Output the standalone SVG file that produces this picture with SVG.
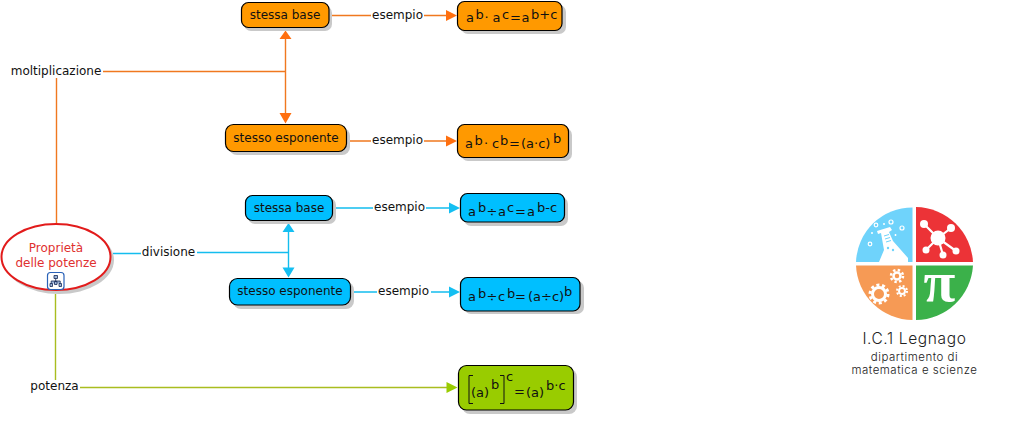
<svg xmlns="http://www.w3.org/2000/svg" width="1036" height="421" viewBox="0 0 1036 421">
<style>
text{font-family:"DejaVu Sans",Verdana,sans-serif;font-size:12px;fill:#111}
.m{text-anchor:middle}
.f{font-size:13px}
.s{font-size:13px}
.n{stroke:#000;stroke-width:1.2}
.sh{fill:#c9c9c9}
.o{fill:#ff9900}.b{fill:#00bfff}.g{fill:#99cc00}
.lo{stroke:#f0781f;fill:none;stroke-width:1.400}
.lb{stroke:#14bdee;fill:none;stroke-width:1.400}
.lg{stroke:#a9bd1f;fill:none;stroke-width:1.400}
.ao{fill:#ff6f0f}.ab{fill:#14bff2}.ag{fill:#99cc00}
.logo{font-family:"Inter","Open Sans",sans-serif;fill:#222;font-weight:300}
</style>
<g id="connectors">
<path class="lo" d="M56.500 223V78M103 71.500H285.500M285.500 38V114M332 15.500H371M424 15.500H447M350 141H371M424 141H447"/>
<path class="lb" d="M113 253.500H141M197 252.500H288.500M288.500 231V268M336 208H373M426 208H449M354 292H377M431 292H449"/>
<path class="lg" d="M55.500 294V380M80 387.500H447"/>
<path class="ao" d="M285.500 30.500l6 8.500h-12zM285.500 123.500l-6-10.500h12zM457 15.500l-11-5.500v11zM457 141l-11-5.500v11z"/>
<path class="ab" d="M288.500 223l6 9h-12zM288.500 277.500l-6-10h12zM460 208l-11-5.500v11zM460 292l-11-5.500v11z"/>
<path class="ag" d="M457.500 387.500l-11-5.500v11z"/>
</g>
<g id="label-moltiplicazione"><text x="56" y="74.500" class="m">moltiplicazione</text></g>
<g id="label-divisione"><text x="168.500" y="256" class="m">divisione</text></g>
<g id="label-potenza"><text x="54.500" y="390" class="m">potenza</text></g>
<g id="label-esempio-1"><text x="397.500" y="18.500" class="m">esempio</text></g>
<g id="label-esempio-2"><text x="397.500" y="144" class="m">esempio</text></g>
<g id="label-esempio-3"><text x="399.500" y="211" class="m">esempio</text></g>
<g id="label-esempio-4"><text x="403.500" y="295" class="m">esempio</text></g>
<g id="root">
<ellipse class="sh" cx="59" cy="260" rx="55" ry="34"/>
<ellipse cx="56" cy="257" rx="54.500" ry="33" fill="#fff" stroke="#e21b1b" stroke-width="2"/>
<text x="56" y="251.500" class="m" style="fill:#e0302f">Proprietà</text>
<text x="56" y="266.500" class="m" style="fill:#e0302f">delle potenze</text>
<rect x="47.500" y="272.500" width="16.500" height="17" rx="3" fill="#fff" stroke="#2a62b8" stroke-width="1.200"/>
<path d="M54 275.500h3.500v3h-3.500zM50 283.500h2.500v3h-2.500zM54.500 281.500h2.500v3h-2.500zM59 283.500h2.500v3h-2.500zM55.700 278.500v3M51.200 283.500v-2.500h9v2.500" fill="#9db4d8" stroke="#152a55" stroke-width=".8"/>
</g>
<g id="orange-base">
<rect class="sh" x="244" y="6" width="88" height="25" rx="7"/>
<rect class="o n" x="241.500" y="2.500" width="87.500" height="25" rx="7"/>
<text x="285" y="19" class="m">stessa base</text>
</g>
<g id="orange-exp">
<rect class="sh" x="229" y="128" width="121" height="27" rx="8"/>
<rect class="o n" x="225.500" y="124.500" width="121" height="27" rx="8"/>
<text x="286" y="141.500" class="m">stesso esponente</text>
</g>
<g id="orange-f1">
<rect class="sh" x="461" y="5" width="105" height="29" rx="7"/>
<rect class="o n" x="457.500" y="1.500" width="104.500" height="29" rx="7"/>
<text class="f"><tspan x="466" y="22">a</tspan><tspan x="475.500" y="19" class="s">b</tspan><tspan x="484.500" y="22">·</tspan><tspan x="492.500" y="22">a</tspan><tspan x="502" y="19" class="s">c</tspan><tspan x="510" y="22">=</tspan><tspan x="521.500" y="22">a</tspan><tspan x="531" y="19" class="s">b+c</tspan></text>
</g>
<g id="orange-f2">
<rect class="sh" x="461" y="128" width="111" height="33" rx="7"/>
<rect class="o n" x="457.500" y="124.500" width="111" height="33" rx="7"/>
<text class="f"><tspan x="465" y="148">a</tspan><tspan x="474.500" y="145" class="s">b</tspan><tspan x="484" y="148">·</tspan><tspan x="492" y="148">c</tspan><tspan x="500" y="145" class="s">b</tspan><tspan x="509" y="148">=</tspan><tspan x="521" y="148">(a·c)</tspan><tspan x="553" y="143" class="s">b</tspan></text>
</g>
<g id="blue-base">
<rect class="sh" x="248" y="198" width="88" height="26" rx="7"/>
<rect class="b n" x="245.500" y="195.500" width="87" height="25" rx="7"/>
<text x="289" y="212" class="m">stessa base</text>
</g>
<g id="blue-exp">
<rect class="sh" x="233" y="282" width="121" height="27" rx="8"/>
<rect class="b n" x="229.500" y="278.500" width="121" height="26.500" rx="8"/>
<text x="290" y="295" class="m">stesso esponente</text>
</g>
<g id="blue-f1">
<rect class="sh" x="464" y="197" width="104" height="29" rx="7"/>
<rect class="b n" x="460.500" y="193.500" width="104" height="28.500" rx="7"/>
<text class="f"><tspan x="468" y="216">a</tspan><tspan x="478" y="212" class="s">b</tspan><tspan x="486.500" y="216">÷</tspan><tspan x="498" y="216">a</tspan><tspan x="507" y="212" class="s">c</tspan><tspan x="515" y="216">=</tspan><tspan x="527" y="216">a</tspan><tspan x="537" y="212" class="s">b-c</tspan></text>
</g>
<g id="blue-f2">
<rect class="sh" x="464" y="281" width="120" height="33" rx="7"/>
<rect class="b n" x="460.500" y="277.500" width="119.500" height="33.500" rx="7"/>
<text class="f"><tspan x="468" y="301">a</tspan><tspan x="478" y="298" class="s">b</tspan><tspan x="486.500" y="301">÷</tspan><tspan x="498" y="301">c</tspan><tspan x="507" y="298" class="s">b</tspan><tspan x="515" y="301">=</tspan><tspan x="528" y="301">(a÷c)</tspan><tspan x="564" y="296" class="s">b</tspan></text>
</g>
<g id="green-f">
<rect class="sh" x="462" y="369" width="115" height="45" rx="8"/>
<rect class="g n" x="458.500" y="365.500" width="115" height="44.500" rx="8"/>
<path d="M473 375.500h-4v28h4M500 375.500h4v28h-4" fill="none" stroke="#111" stroke-width="1"/>
<text class="f"><tspan x="471" y="397">(a)</tspan><tspan x="491" y="389" class="s">b</tspan><tspan x="506" y="381" class="s">c</tspan><tspan x="514" y="396">=</tspan><tspan x="526" y="397">(a)</tspan><tspan x="546" y="390" class="s">b·c</tspan></text>
</g>
<g id="logo">
<path d="M912.500 262V207.500A56.500 56.500 0 0 0 856 262Z" fill="#6fd3fb"/>
<path d="M916 262V207A58 58 0 0 1 973 262Z" fill="#ec3337"/>
<path d="M912.500 265.500V320A57 57 0 0 1 856 265.500Z" fill="#f69a55"/>
<path d="M916 265.500V320A58 58 0 0 0 973 265.500Z" fill="#3bb14a"/>
<path d="M877 231L890 227L892 230L889 232L893 241L908 258L908 262H879L884 250L881 233L878 234Z" fill="#fff"/>
<g fill="#6fd3fb"><circle cx="888" cy="248" r="1.200"/><circle cx="893" cy="250" r="1.200"/><path d="M884 236l5-1.500M885 239l5-1.500M886 242l5-1.500" stroke="#6fd3fb"/></g>
<g fill="none" stroke="#fff" stroke-width="1.200"><circle cx="870" cy="244" r="1.800"/><circle cx="891" cy="222" r="2"/><circle cx="902" cy="228" r="2"/><circle cx="876" cy="225" r="1.800"/></g>
<g fill="#fff"><circle cx="872" cy="233" r="1"/><circle cx="884" cy="224" r="1"/><path d="M894.500 235h2M895.500 234v2" stroke="#fff"/></g>
<path d="M924 224L938 238L951 228M938 238L926 250M938 238L943 255M938 238L956 251" fill="none" stroke="#fff" stroke-width="2.200"/>
<g fill="#fff"><circle cx="938" cy="238" r="7.500"/><circle cx="924" cy="224" r="4"/><circle cx="951" cy="228" r="4"/><circle cx="926" cy="250" r="3.500"/><circle cx="943" cy="255" r="3.500"/><circle cx="956" cy="251" r="3.500"/></g>
<g fill="none" stroke="#fff"><circle cx="879" cy="294" r="6.500" stroke-width="3"/><circle cx="879" cy="294" r="9" stroke-width="3" stroke-dasharray="3 2.650"/><circle cx="897" cy="276" r="3.500" stroke-width="2.500"/><circle cx="897" cy="276" r="6" stroke-width="2.500" stroke-dasharray="2.400 2.310"/><circle cx="902" cy="291" r="3" stroke-width="2"/><circle cx="902" cy="291" r="5" stroke-width="2" stroke-dasharray="2 1.930"/></g>
<text x="939.500" y="301" text-anchor="middle" style="font-family:'Liberation Serif',serif;font-size:58px;font-weight:700;fill:#fff">π</text>
<text x="914.500" y="344" class="logo m" style="font-size:15.500px;letter-spacing:.65px">I.C.1 Legnago</text>
<text x="914.500" y="361" class="logo m" style="font-size:11.500px;letter-spacing:.5px">dipartimento di</text>
<text x="914.500" y="373.500" class="logo m" style="font-size:11.500px;letter-spacing:.5px">matematica e scienze</text>
</g>
</svg>
